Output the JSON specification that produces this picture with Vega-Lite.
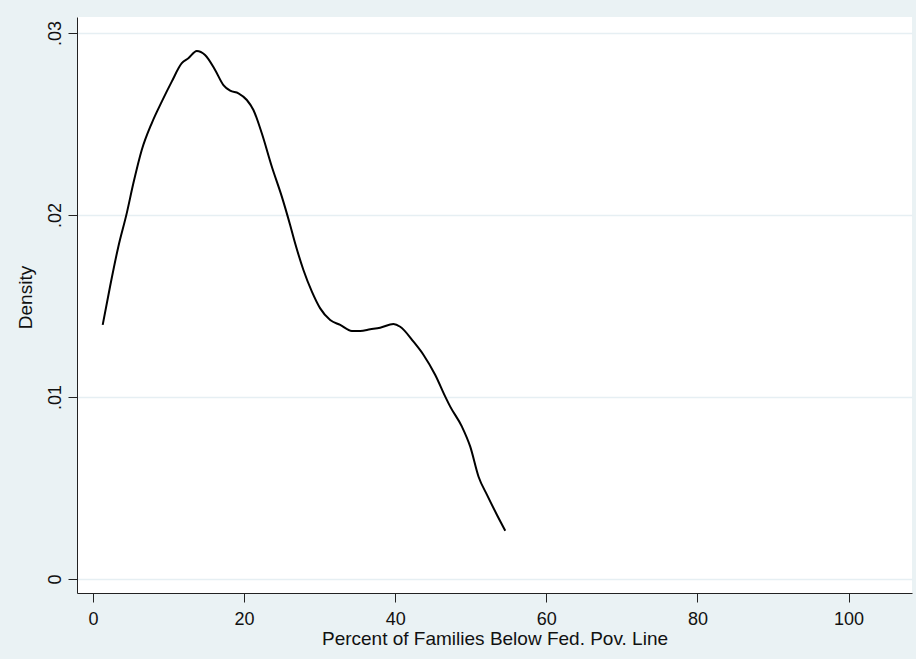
{
  "$schema": "https://vega.github.io/schema/vega-lite/v6.json",
  "autosize": {"type": "none"},
  "width": 835,
  "height": 576,
  "padding": {"left": 77, "top": 17, "right": 4, "bottom": 66},
  "background": "#eaf2f4",
  "config": {
    "view": {"fill": "white", "stroke": null},
    "font": "Liberation Sans",
    "axis": {
      "labelFont": "Liberation Sans",
      "titleFont": "Liberation Sans",
      "labelColor": "#111111",
      "titleColor": "#111111",
      "titleFontWeight": "normal",
      "domainColor": "#222222",
      "domainWidth": 1,
      "tickColor": "#222222",
      "tickWidth": 1,
      "tickSize": 9,
      "labelFontSize": 18,
      "titleFontSize": 19
    }
  },
  "data": {
    "values": [
      {"x": 1.28, "d": 0.01396},
      {"x": 2.25, "d": 0.01606},
      {"x": 3.35, "d": 0.01826},
      {"x": 4.46, "d": 0.02009},
      {"x": 5.34, "d": 0.02174},
      {"x": 6.45, "d": 0.02357},
      {"x": 7.77, "d": 0.02504},
      {"x": 9.10, "d": 0.02623},
      {"x": 10.42, "d": 0.02733},
      {"x": 11.75, "d": 0.02834},
      {"x": 12.62, "d": 0.02861},
      {"x": 13.73, "d": 0.02901},
      {"x": 14.83, "d": 0.02879},
      {"x": 16.16, "d": 0.02797},
      {"x": 17.26, "d": 0.02714},
      {"x": 18.15, "d": 0.02683},
      {"x": 19.25, "d": 0.02669},
      {"x": 20.36, "d": 0.02632},
      {"x": 21.23, "d": 0.02577},
      {"x": 22.34, "d": 0.02449},
      {"x": 23.67, "d": 0.02265},
      {"x": 24.99, "d": 0.02101},
      {"x": 26.09, "d": 0.01945},
      {"x": 26.75, "d": 0.01845},
      {"x": 27.85, "d": 0.01698},
      {"x": 28.97, "d": 0.01579},
      {"x": 30.07, "d": 0.01487},
      {"x": 31.39, "d": 0.01423},
      {"x": 32.72, "d": 0.01396},
      {"x": 34.26, "d": 0.01363},
      {"x": 35.36, "d": 0.01363},
      {"x": 36.69, "d": 0.01372},
      {"x": 38.01, "d": 0.01381},
      {"x": 39.77, "d": 0.01401},
      {"x": 40.66, "d": 0.01386},
      {"x": 42.42, "d": 0.01304},
      {"x": 43.75, "d": 0.01231},
      {"x": 45.30, "d": 0.01121},
      {"x": 46.62, "d": 0.01002},
      {"x": 47.28, "d": 0.00947},
      {"x": 48.83, "d": 0.00837},
      {"x": 49.93, "d": 0.00727},
      {"x": 51.03, "d": 0.00562},
      {"x": 52.15, "d": 0.00462},
      {"x": 53.47, "d": 0.00352},
      {"x": 54.57, "d": 0.00265}
    ]
  },
  "mark": {"type": "line", "color": "black", "strokeWidth": 2, "interpolate": "monotone"},
  "encoding": {
    "x": {
      "field": "x",
      "type": "quantitative",
      "scale": {"domain": [-2.12, 108.4], "nice": false, "zero": false},
      "axis": {
        "title": "Percent of Families Below Fed. Pov. Line",
        "values": [0, 20, 40, 60, 80, 100],
        "grid": false,
        "labelPadding": 8,
        "labelFlush": false,
        "titleBaseline": "alphabetic",
        "titleY": 51,
        "titleX": 417.5,
        "titleAlign": "center"
      }
    },
    "y": {
      "field": "d",
      "type": "quantitative",
      "scale": {"domain": [-0.00077, 0.03088], "nice": false, "zero": false},
      "axis": {
        "title": "Density",
        "values": [0, 0.01, 0.02, 0.03],
        "labelExpr": "datum.value == 0 ? '0' : replace(format(datum.value, '.2f'), '0.', '.')",
        "labelAngle": 270,
        "labelAlign": "center",
        "labelBaseline": "alphabetic",
        "labelPadding": 8,
        "labelFlush": false,
        "grid": true,
        "gridColor": "#e6eff3",
        "gridWidth": 1.5,
        "titleAngle": 270,
        "titleBaseline": "alphabetic",
        "titleAlign": "center",
        "titleX": -46,
        "titleY": 280
      }
    }
  }
}
